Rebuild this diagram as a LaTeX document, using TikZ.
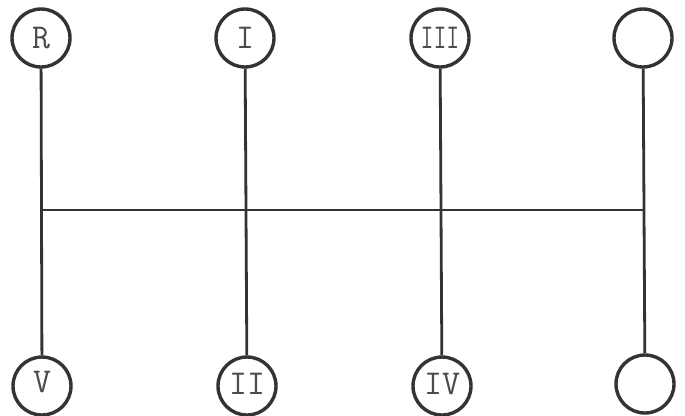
\documentclass[tikz,border=0pt]{standalone}
\begin{document}
\begin{tikzpicture}[x=1bp,y=-1bp,
  ring/.style={circle,draw=black!80,line width=3.4bp,minimum size=58bp,inner sep=0pt,
    font=\ttfamily\fontsize{35}{35}\selectfont,text=black!70},
  wire/.style={draw=black!80,line width=2.8bp}]
\useasboundingbox[fill=white] (0,0) rectangle (685,415);
\node[ring] (R)   at (41,38)  {R};
\node[ring] (I)   at (245,38) {I};
\node[ring] (III) at (440,38) {\scalebox{0.72}[1]{III}};
\node[ring] (T4)  at (643,38) {};
\node[ring] (V)   at (42,386) {\raisebox{9bp}{V}};
\node[ring] (II)  at (247,386) {\raisebox{5bp}{II}};
\node[ring] (IV)  at (442,386) {\raisebox{5bp}{IV}};
\node[ring] (B4)  at (645,384) {};
\coordinate (jL) at (41,210);
\coordinate (jR) at (644,210);
\path[wire] (R) -- (V);
\path[wire] (I) -- (II);
\path[wire] (III) -- (IV);
\path[wire] (T4) -- (B4);
\path[wire] (jL) -- (jR);
\end{tikzpicture}
\end{document}
